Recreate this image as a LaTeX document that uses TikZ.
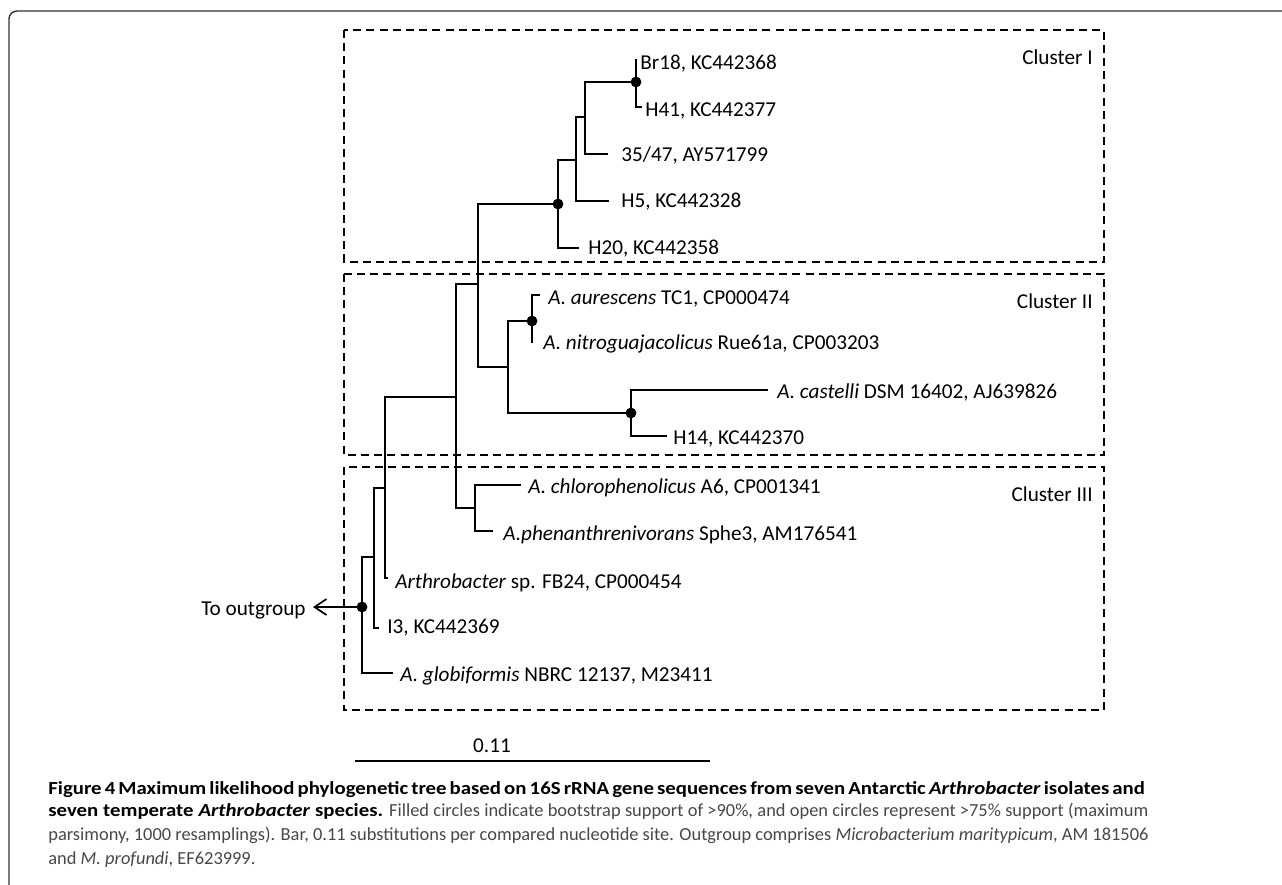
\documentclass[tikz,border=0pt]{standalone}
\usepackage{fontspec}
\setmainfont{Carlito}[BoldFeatures={FakeStretch=1.13}, BoldItalicFeatures={FakeStretch=1.13}]
\usetikzlibrary{arrows.meta}

\begin{document}
\begin{tikzpicture}[x=0.5pt, y=-0.5pt,
    branch/.style={line width=0.85pt},
    clusterbox/.style={line width=0.9pt, dash pattern=on 4pt off 2.6pt},
    leaf/.style={anchor=base west, inner sep=0pt, yshift=-3.4pt, font=\fontsize{10.6}{12}\selectfont},
    clustername/.style={anchor=base east, inner sep=0pt, yshift=-3.4pt, font=\fontsize{10.6}{12}\selectfont},
    capline/.style={anchor=base west, inner sep=0pt, font=\fontsize{9.2}{11}\selectfont, text=black!72}]
    \useasboundingbox (0,0) rectangle (1282,885);

    % Frame
    \draw[line width=0.7pt, black!80, rounded corners=4pt] (1282,11) -- (9,11) -- (9,885);

    % Clusters
    \draw[clusterbox] (344,30) rectangle (1104,262);
    \draw[clusterbox] (344,274) rectangle (1104,455);
    \draw[clusterbox] (344,467) rectangle (1104,710);
    \node[clustername] (cI) at (1093,58) {Cluster I};
    \node[clustername] (cII) at (1093,302) {Cluster II};
    \node[clustername] (cIII) at (1093,495) {Cluster III};

    % Internal nodes
    \coordinate (root) at (362,607);
    \coordinate (nI3) at (374,557);
    \coordinate (nFB) at (385,488);
    \coordinate (nCore) at (456,397);
    \coordinate (nUp) at (478,284);
    \coordinate (nC1) at (558,204);
    \coordinate (nC1a) at (576,160);
    \coordinate (nC1b) at (585,117);
    \coordinate (nBr) at (636,82);
    \coordinate (nC2) at (508,367);
    \coordinate (nAur) at (532,321);
    \coordinate (nCas) at (631,413);
    \coordinate (nChl) at (475,508);

    % Leaves
    \coordinate (lBr) at (637,60);
    \coordinate (lH41) at (642,107);
    \coordinate (l3547) at (608,154);
    \coordinate (lH5) at (609,201);
    \coordinate (lH20) at (579,248);
    \coordinate (lAur) at (540,295);
    \coordinate (lNit) at (532,343);
    \coordinate (lCas) at (768,390);
    \coordinate (lH14) at (667,436);
    \coordinate (lChl) at (521,485);
    \coordinate (lPhe) at (493,531);
    \coordinate (lFB) at (388,578);
    \coordinate (lI3) at (379,628);
    \coordinate (lGlo) at (393,673);

    % Branches
    \foreach \p/\c in {root/nI3, root/lGlo, nI3/nFB, nI3/lI3, nFB/nCore, nFB/lFB,
                       nCore/nUp, nCore/nChl, nChl/lChl, nChl/lPhe,
                       nUp/nC1, nUp/nC2, nC1/nC1a, nC1/lH20, nC1a/nC1b, nC1a/lH5,
                       nC1b/nBr, nC1b/l3547, nBr/lBr, nBr/lH41,
                       nC2/nAur, nC2/nCas, nAur/lAur, nAur/lNit, nCas/lCas, nCas/lH14} {
        \draw[branch] (\p) |- (\c);
    }
    % Bootstrap > 90%
    \foreach \n in {root, nC1, nBr, nAur, nCas} {
        \fill (\n) circle (2.7pt);
    }

    % Leaf labels
    \node[leaf] (tBr) at (640,63) {Br18, KC442368};
    \node[leaf] (tH41) at (645,110) {H41, KC442377};
    \node[leaf] (t3547) at (621,155) {35/47, AY571799};
    \node[leaf] (tH5) at (621,201) {H5, KC442328};
    \node[leaf] (tH20) at (588,248) {H20, KC442358};
    \node[leaf] (tAur) at (548,298) {\textit{A. aurescens} TC1, CP000474};
    \node[leaf] (tNit) at (543,343) {\textit{A. nitroguajacolicus} Rue61a, CP003203};
    \node[leaf] (tCas) at (777,392) {\textit{A. castelli} DSM 16402, AJ639826};
    \node[leaf] (tH14) at (673,438) {H14, KC442370};
    \node[leaf] (tChl) at (528,487) {\textit{A. chlorophenolicus} A6, CP001341};
    \node[leaf] (tPhe) at (503,534) {\textit{A.phenanthrenivorans} Sphe3, AM176541};
    \node[leaf] (tFB) at (395,582) {\textit{Arthrobacter} sp. FB24, CP000454};
    \node[leaf] (tI3) at (387,627) {I3, KC442369};
    \node[leaf] (tGlo) at (400,675) {\textit{A. globiformis} NBRC 12137, M23411};

    % Outgroup
    \coordinate (og) at (313,607);
    \draw[branch, -{Straight Barb[length=6pt, width=8pt]}] (root) -- (og);
    \node[clustername] (tOg) at (306,609) {To outgroup};

    % Scale bar
    \coordinate (sbL) at (355,761);
    \coordinate (sbR) at (710,761);
    \draw[branch] (sbL) -- (sbR);
    \node[font=\fontsize{10.6}{12}\selectfont] (sbT) at (492,746) {0.11};

    % Caption
    \node[capline, text=black] (cap1) at (48,794) {\makebox[541.5pt][s]{\bfseries Figure 4 Maximum likelihood phylogenetic tree based on 16S rRNA gene sequences from seven Antarctic \textit{Arthrobacter} isolates and}};
    \node[capline] (cap2) at (48,816) {\makebox[550pt][s]{{\color{black}\bfseries seven temperate \textit{Arthrobacter} species.} Filled circles indicate bootstrap support of >90\%, and open circles represent >75\% support (maximum}};
    \node[capline] (cap3) at (48,840) {\makebox[550pt][s]{parsimony, 1000 resamplings). Bar, 0.11 substitutions per compared nucleotide site. Outgroup comprises \textit{Microbacterium maritypicum}, AM 181506}};
    \node[capline] (cap4) at (48,864) {and \textit{M. profundi}, EF623999.};
\end{tikzpicture}
\end{document}
